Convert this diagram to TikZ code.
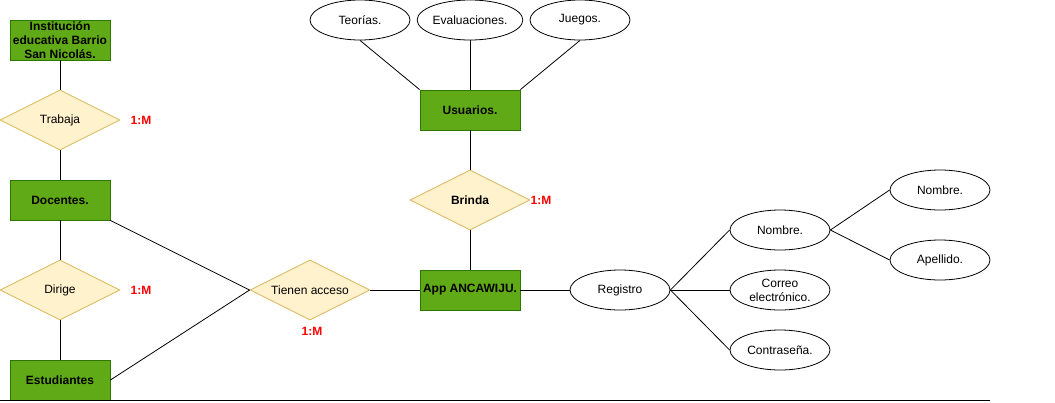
\documentclass[tikz,border=0pt]{standalone}
\usepackage{fontspec}
\setmainfont{Liberation Sans}
\usetikzlibrary{shapes.geometric}
\definecolor{entfill}{HTML}{60A917}
\definecolor{entdraw}{HTML}{2D7600}
\definecolor{relfill}{HTML}{FFF2CC}
\definecolor{reldraw}{HTML}{D6B656}
\definecolor{card}{HTML}{FF0000}
\tikzset{
  ent/.style={draw=entdraw, fill=entfill, minimum width=100pt, minimum height=40pt, inner sep=1pt, font=\fontsize{12}{14}\selectfont\bfseries, align=center, line width=0.8pt},
  rel/.style={draw=reldraw, fill=relfill, diamond, aspect=2, minimum width=120pt, minimum height=60pt, inner sep=0pt, font=\fontsize{12}{14}\selectfont, line width=0.8pt},
  attr/.style={draw=black, fill=white, ellipse, minimum width=100pt, minimum height=40pt, inner sep=0pt, font=\fontsize{12}{14}\selectfont, align=center, line width=0.8pt},
  cardl/.style={text=card, font=\fontsize{12}{14}\selectfont\bfseries},
  conn/.style={draw=black, line width=0.8pt}
}
\begin{document}
\begin{tikzpicture}[x=1pt,y=-1pt]
\useasboundingbox (0,0) rectangle (1055,402);
% entities
\node[ent] (inst) at (60,40) {Institución\\educativa Barrio\\San Nicolás.};
\node[ent] (doc) at (60,200) {Docentes.};
\node[ent] (est) at (60,380) {Estudiantes};
\node[ent] (usu) at (470,110) {Usuarios.};
\node[ent] (app) at (470,290) {App ANCAWIJU.};
% relationships
\node[rel] (trab) at (60,120) {Trabaja};
\node[rel] (dir) at (60,290) {Dirige};
\node[rel] (tien) at (310,290) {Tienen acceso};
\node[rel, font=\fontsize{12}{14}\selectfont\bfseries] (brin) at (470,200) {Brinda};
% cardinalities
\node[cardl] (c1) at (141,120) {1:M};
\node[cardl] (c2) at (141,290) {1:M};
\node[cardl] (c3) at (312,331) {1:M};
\node[cardl] (c4) at (541,200) {1:M};
% attributes
\node[attr] (teo) at (360,20) {Teorías.};
\node[attr] (eva) at (470,20) {Evaluaciones.};
\node[attr] (jue) at (580,20) {Juegos.};
\node[attr] (reg) at (620,290) {Registro};
\node[attr] (nom) at (780,230) {Nombre.};
\node[attr] (cor) at (780,290) {Correo\\electrónico.};
\node[attr] (con) at (780,350) {Contraseña.};
\node[attr] (nom2) at (940,190) {Nombre.};
\node[attr] (ape) at (940,260) {Apellido.};
\coordinate (bl) at (0,400);
\coordinate (br) at (990,400);
% connectors
\draw[conn] (inst.south) -- (trab.north);
\draw[conn] (trab.south) -- (doc.north);
\draw[conn] (doc.south) -- (dir.north);
\draw[conn] (dir.south) -- (est.north);
\draw[conn] (doc.south east) -- (tien.west);
\draw[conn] (est.east) -- (tien.west);
\draw[conn] (tien.east) -- (app.west);
\draw[conn] (app.north) -- (brin.south);
\draw[conn] (brin.north) -- (usu.south);
\draw[conn] (teo.south) -- (usu.north west);
\draw[conn] (eva.south) -- (usu.north);
\draw[conn] (jue.south) -- (usu.north east);
\draw[conn] (app.east) -- (reg.west);
\draw[conn] (reg.east) -- (nom.west);
\draw[conn] (reg.east) -- (cor.west);
\draw[conn] (reg.east) -- (con.west);
\draw[conn] (nom.east) -- (nom2.west);
\draw[conn] (nom.east) -- (ape.west);
\draw[conn] (bl) -- (br);
\end{tikzpicture}
\end{document}
